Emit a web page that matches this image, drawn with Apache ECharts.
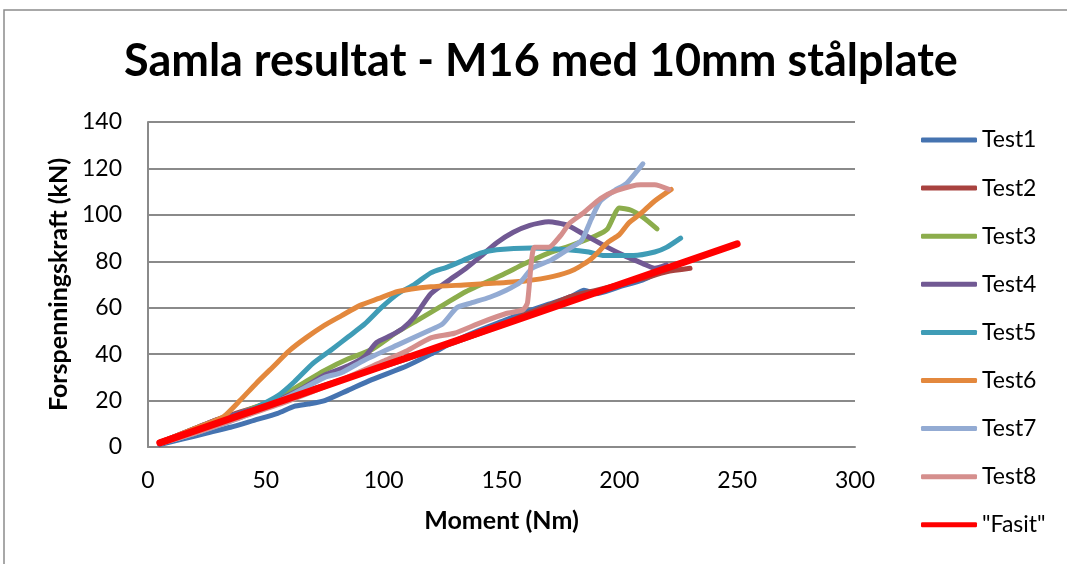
<!DOCTYPE html>
<html>
<head>
<meta charset="utf-8">
<title>Samla resultat - M16 med 10mm stålplate</title>
<script src="https://cdn.jsdelivr.net/npm/echarts@6/dist/echarts.min.js"></script>
<style>
  html, body { margin: 0; padding: 0; background: #fff; }
  #chart { width: 1067px; height: 564px; }
</style>
</head>
<body>
<div id="chart"></div>
<script>
// Måledata: [moment (Nm), forspenningskraft (kN)]
const test1 = [[5, 1], [15, 3.5], [25, 6], [35, 8.5], [45, 11.5], [55, 14.5], [62, 17.5], [68, 18.5], [75, 20], [85, 24.5], [95, 29], [110, 35], [120, 40], [130, 45.5], [140, 50], [150, 54], [160, 58], [170, 61.5], [180, 65], [185, 67.5], [190, 66], [200, 69], [210, 72], [220, 77]]
const test2 = [[5, 2], [15, 6], [30, 12], [50, 18.5], [70, 25], [90, 31.5], [110, 38], [130, 45], [150, 52.5], [160, 57], [170, 61], [180, 65], [190, 67.5], [200, 70], [210, 72.5], [220, 75.5], [230, 77]]
const test3 = [[5, 2], [20, 7], [40, 15], [55, 21], [65, 27], [75, 33], [85, 38], [95, 42], [105, 49], [115, 55], [125, 61], [135, 67], [150, 74], [160, 79], [170, 83.5], [180, 87], [190, 91], [195, 94], [200, 103], [205, 102], [210, 99], [216, 94]]
const test4 = [[5, 2], [15, 6], [30, 12], [50, 18], [65, 25], [75, 31], [85, 35], [92, 39], [97, 45], [103, 48], [108, 51], [113, 56], [120, 66], [128, 72], [135, 77], [141, 82], [148, 88], [155, 92.5], [162, 95.5], [170, 97], [178, 95.5], [186, 91], [195, 86], [203, 82], [210, 79], [215, 77], [220, 78.5]]
const test5 = [[5, 1.5], [20, 6], [40, 14], [55, 22], [62, 28], [70, 36], [78, 42], [85, 47.5], [92, 53], [99, 60], [106, 66], [113, 70], [120, 75], [127, 77.5], [134, 80.5], [141, 83.5], [148, 85], [163, 85.7], [178, 85], [187, 84], [193, 82.5], [206, 82.5], [215, 84], [220, 86], [226, 90]]
const test6 = [[5, 2], [15, 6], [25, 10], [32, 13], [39, 20], [46, 27.5], [53, 34.5], [60, 41.5], [67, 47], [75, 52.5], [82, 56.5], [90, 61], [98, 64], [106, 67], [120, 69], [134, 69.8], [148, 70.6], [160, 71.5], [172, 73.5], [181, 76.5], [188, 81], [195, 88], [200, 91.5], [204, 96.5], [209, 100.5], [215, 106], [222, 111]]
const test7 = [[5, 1.5], [20, 6], [40, 13], [60, 22], [75, 30], [82, 32], [92, 37.5], [106, 44], [120, 50.5], [125, 53], [131, 60], [137, 62], [145, 64.5], [152, 67.5], [158, 71], [163, 77], [171, 80.5], [178, 85], [184, 89], [188, 98], [192, 106], [198, 110.5], [203, 113.5], [210, 122]]
const test8 = [[5, 1.5], [20, 6], [40, 13], [60, 20], [80, 28], [100, 37], [110, 41.5], [120, 47], [130, 49], [141, 53.5], [152, 57.5], [159, 59], [161, 62], [164, 86], [170, 86], [175, 91], [179, 96.5], [185, 101], [192, 107], [199, 110.5], [209, 113], [215, 113], [221, 111]]
const fasit = [[5, 1.8], [50, 17.5], [100, 35], [150, 52.5], [200, 70], [250, 87.5]]

const seriesNames = ['Test1', 'Test2', 'Test3', 'Test4', 'Test5', 'Test6', 'Test7', 'Test8', '"Fasit"']
const seriesData = [test1, test2, test3, test4, test5, test6, test7, test8, fasit]
const seriesColors = ['#4573b0', '#a8423f', '#8cad4c', '#715993', '#3f9cb6', '#e3883d', '#93abd3', '#d58f8d', '#ff0000']

const xTicks = { min: 0, max: 300, interval: 50 }
const yTicks = { min: 0, max: 140, interval: 20 }

const FONT = 'Lato, "Noto Sans", sans-serif'
const GRID_COLOR = '#8a8a8a'

const chart = echarts.init(document.getElementById('chart'))

const series = seriesNames.map((name, i) => {
  const isFasit = i === seriesNames.length - 1
  return {
    name,
    type: 'line',
    data: seriesData[i],
    symbol: 'none',
    smooth: isFasit ? false : 0.2,
    lineStyle: {
      color: seriesColors[i],
      width: isFasit ? 7 : 5,
      cap: 'round',
      join: 'round'
    },
    itemStyle: { color: seriesColors[i] },
    emphasis: { disabled: true }
  }
})

chart.setOption({
  animation: false,
  title: {
    text: 'Samla resultat - M16 med 10mm stålplate',
    left: 124,
    top: 39,
    padding: 0,
    textStyle: {
      fontFamily: FONT,
      fontSize: 45,
      fontWeight: 'bold',
      color: '#000'
    }
  },
  graphic: [
    {
      // ytre ramme rundt diagrammet
      type: 'rect',
      shape: { x: 4, y: 10, width: 1100, height: 600 },
      style: { fill: 'none', stroke: '#8c8c8c', lineWidth: 1.5 },
      silent: true
    }
  ],
  legend: {
    orient: 'vertical',
    left: 916,
    top: 123,
    icon: 'roundRect',
    itemWidth: 56,
    itemHeight: 5,
    itemGap: 24.1,
    data: seriesNames,
    textStyle: {
      fontFamily: FONT,
      fontSize: 23,
      lineHeight: 24,
      color: '#000'
    }
  },
  grid: {
    left: 148,
    right: 212,
    top: 122,
    bottom: 117,
    containLabel: false
  },
  xAxis: {
    type: 'value',
    min: xTicks.min,
    max: xTicks.max,
    interval: xTicks.interval,
    name: 'Moment (Nm)',
    nameLocation: 'middle',
    nameGap: 61,
    nameTextStyle: {
      fontFamily: FONT,
      fontSize: 25,
      fontWeight: 'bold',
      color: '#000'
    },
    axisLine: { show: true, lineStyle: { color: GRID_COLOR, width: 2 } },
    axisTick: { show: false },
    splitLine: { show: false },
    axisLabel: {
      margin: 22,
      fontFamily: FONT,
      fontSize: 23,
      color: '#000'
    }
  },
  yAxis: {
    type: 'value',
    min: yTicks.min,
    max: yTicks.max,
    interval: yTicks.interval,
    name: 'Forspenningskraft (kN)',
    nameLocation: 'middle',
    nameGap: 76,
    nameTextStyle: {
      fontFamily: FONT,
      fontSize: 25,
      fontWeight: 'bold',
      color: '#000'
    },
    axisLine: { show: true, lineStyle: { color: GRID_COLOR, width: 2 } },
    axisTick: { show: false },
    splitLine: { show: true, lineStyle: { color: GRID_COLOR, width: 2 } },
    axisLabel: {
      margin: 26,
      fontFamily: FONT,
      fontSize: 23,
      color: '#000'
    }
  },
  series
})
</script>
</body>
</html>
